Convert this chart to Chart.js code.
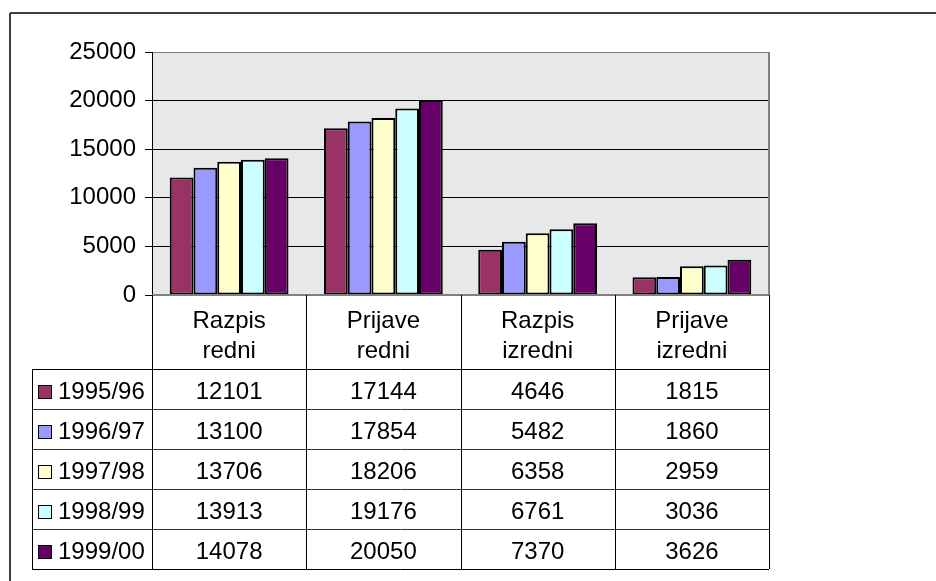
<!DOCTYPE html>
<html lang="sl">
<head>
<meta charset="UTF-8">
<title>Razpis in prijave</title>
<script src="https://cdn.jsdelivr.net/npm/chart.js"></script>
<style>
    body {
        margin: 0;
        background: #fff;
    }
    #wrap {
        width: 936px;
        height: 581px;
    }
</style>
</head>
<body>
<div id="wrap">
    <canvas id="myChart" width="936" height="581"></canvas>
</div>
<script>
    const categories = [['Razpis', 'redni'], ['Prijave', 'redni'], ['Razpis', 'izredni'], ['Prijave', 'izredni']];
    const years = ['1995/96', '1996/97', '1997/98', '1998/99', '1999/00'];
    const colors = ['#993366', '#9999FF', '#FFFFCC', '#CCFFFF', '#660066'];

    const v1995 = [12101, 17144, 4646, 1815];
    const v1996 = [13100, 17854, 5482, 1860];
    const v1997 = [13706, 18206, 6358, 2959];
    const v1998 = [13913, 19176, 6761, 3036];
    const v1999 = [14078, 20050, 7370, 3626];
    const series = [v1995, v1996, v1997, v1998, v1999];

    const yTicks = [0, 5000, 10000, 15000, 20000, 25000];

    const FONT = '24px Arial, "Liberation Sans", sans-serif';
    const headerBottom = 369;
    const rowH = 40;
    const tableLeft = 32;

    // grey plot background + frame
    const plotBg = {
        id: 'plotBg',
        beforeDraw(chart) {
            const { ctx, chartArea: a } = chart;
            ctx.save();
            ctx.fillStyle = '#E8E8E8';
            ctx.fillRect(a.left, a.top, a.right - a.left, a.bottom - a.top);
            ctx.restore();
        },
        afterDatasetsDraw(chart) {
            const { ctx, chartArea: a } = chart;
            ctx.save();
            ctx.strokeStyle = '#808080';
            ctx.lineWidth = 2;
            ctx.beginPath();
            ctx.moveTo(a.right, a.top);
            ctx.lineTo(a.right, a.bottom);
            ctx.stroke();
            ctx.beginPath();
            ctx.moveTo(a.left, a.bottom);
            ctx.lineTo(a.right, a.bottom);
            ctx.stroke();
            ctx.restore();
        }
    };

    // data table under the plot, Excel style
    const dataTable = {
        id: 'dataTable',
        afterDraw(chart) {
            const { ctx, chartArea: a } = chart;
            const x = chart.scales.x;
            const n = categories.length;
            const colW = (a.right - a.left) / n;
            const bottom = headerBottom + rowH * years.length;

            ctx.save();
            ctx.strokeStyle = '#000';
            ctx.lineWidth = 1;

            // vertical lines
            for (let i = 0; i <= n; i++) {
                const px = Math.round(a.left + colW * i) + 0.5;
                ctx.beginPath();
                ctx.moveTo(px, a.bottom);
                ctx.lineTo(px, bottom);
                ctx.stroke();
            }
            ctx.beginPath();
            ctx.moveTo(tableLeft + 0.5, headerBottom);
            ctx.lineTo(tableLeft + 0.5, bottom);
            ctx.stroke();

            // horizontal lines
            for (let r = 0; r <= years.length; r++) {
                const py = headerBottom + rowH * r + 0.5;
                ctx.strokeStyle = (r === 0 || r === years.length) ? '#000' : '#333';
                ctx.beginPath();
                ctx.moveTo(tableLeft, py);
                ctx.lineTo(a.right, py);
                ctx.stroke();
            }

            ctx.fillStyle = '#000';
            ctx.font = FONT;
            ctx.textAlign = 'center';
            ctx.textBaseline = 'middle';

            // header
            categories.forEach((lines, i) => {
                const cx = x.getPixelForValue(i);
                lines.forEach((t, k) => ctx.fillText(t, cx, 321 + k * 30));
            });

            // rows
            years.forEach((yr, r) => {
                const cy = headerBottom + rowH * r + rowH / 2 + 3;
                series[r].forEach((v, i) => {
                    ctx.fillText(String(v), x.getPixelForValue(i), cy);
                });
                ctx.fillStyle = colors[r];
                ctx.fillRect(38, cy - 7, 13, 13);
                ctx.strokeStyle = '#000';
                ctx.strokeRect(38.5, cy - 6.5, 13, 13);
                ctx.fillStyle = '#000';
                ctx.textAlign = 'left';
                ctx.fillText(yr, 58, cy);
                ctx.textAlign = 'center';
            });

            // outer frame
            ctx.strokeStyle = '#404040';
            ctx.lineWidth = 2;
            ctx.beginPath();
            ctx.moveTo(10, 13);
            ctx.lineTo(936, 13);
            ctx.moveTo(10, 13);
            ctx.lineTo(10, 581);
            ctx.stroke();
            ctx.restore();
        }
    };

    const ctx = document.getElementById('myChart').getContext('2d');

    new Chart(ctx, {
        type: 'bar',
        data: {
            labels: categories,
            datasets: years.map((yr, i) => ({
                label: yr,
                data: series[i],
                backgroundColor: colors[i],
                borderColor: '#000',
                borderWidth: 2,
                borderSkipped: false,
                categoryPercentage: 0.77,
                barPercentage: 1.0
            }))
        },
        options: {
            responsive: false,
            animation: false,
            layout: {
                padding: { left: 0, top: 52, right: 167, bottom: 286 }
            },
            plugins: {
                legend: { display: false },
                tooltip: { enabled: false }
            },
            scales: {
                x: {
                    display: false
                },
                y: {
                    min: 0,
                    max: 25000,
                    afterBuildTicks(scale) {
                        scale.ticks = yTicks.map(v => ({ value: v }));
                    },
                    afterFit(scale) {
                        scale.width = 152;
                    },
                    ticks: {
                        color: '#000',
                        padding: 9,
                        font: { family: 'Arial, "Liberation Sans", sans-serif', size: 24 },
                        callback: v => String(v)
                    },
                    grid: {
                        color: c => (c.tick && (c.tick.value === 25000 || c.tick.value === 0)) ? '#808080' : '#000',
                        tickColor: '#000',
                        tickLength: 7,
                        lineWidth: 1
                    },
                    border: { display: true, color: '#000', width: 1 }
                }
            }
        },
        plugins: [plotBg, dataTable]
    });
</script>
</body>
</html>
